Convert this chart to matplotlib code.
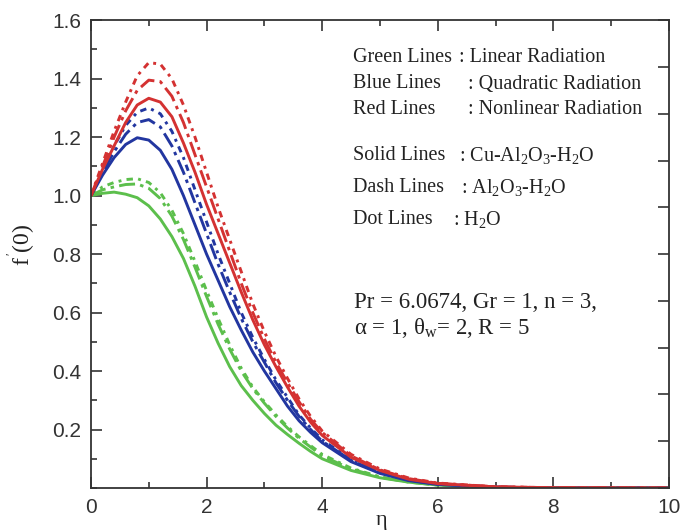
import numpy as np
import matplotlib
matplotlib.use("Agg")
import matplotlib.pyplot as plt
from matplotlib.ticker import MultipleLocator

# ---------------- data ----------------
eta = [0.0, 0.2, 0.4, 0.6, 0.8, 1.0, 1.2, 1.4, 1.6, 1.8, 2.0, 2.2, 2.4, 2.6,
       2.8, 3.0, 3.2, 3.4, 3.6, 3.8, 4.0, 4.5, 5.0, 5.5, 6.0, 7.0, 8.0, 10.0]

# green: linear radiation
green_solid = [1.0, 1.008, 1.012, 1.005, 0.993, 0.965, 0.92, 0.86, 0.785, 0.69, 0.585,
               0.495, 0.415, 0.35, 0.30, 0.255, 0.215, 0.183, 0.153, 0.125, 0.10,
               0.06, 0.035, 0.02, 0.01, 0.002, 0.0, 0.0]
green_dash = [1.0, 1.02, 1.03, 1.038, 1.04, 1.025, 0.99, 0.93, 0.85, 0.755, 0.655,
              0.56, 0.475, 0.40, 0.34, 0.29, 0.245, 0.205, 0.17, 0.14, 0.11,
              0.065, 0.037, 0.02, 0.01, 0.002, 0.0, 0.0]
green_dot = [1.0, 1.03, 1.045, 1.055, 1.058, 1.045, 1.01, 0.95, 0.87, 0.775, 0.675,
             0.58, 0.49, 0.41, 0.345, 0.295, 0.25, 0.21, 0.175, 0.145, 0.115,
             0.068, 0.038, 0.021, 0.011, 0.002, 0.0, 0.0]

# blue: quadratic radiation
blue_solid = [1.0, 1.07, 1.13, 1.175, 1.198, 1.19, 1.155, 1.09, 1.0, 0.90, 0.80,
              0.71, 0.62, 0.54, 0.465, 0.40, 0.34, 0.28, 0.23, 0.19, 0.155,
              0.09, 0.05, 0.025, 0.012, 0.003, 0.0, 0.0]
blue_dash = [1.0, 1.08, 1.15, 1.21, 1.25, 1.26, 1.235, 1.17, 1.08, 0.975, 0.87,
             0.765, 0.67, 0.58, 0.50, 0.43, 0.36, 0.30, 0.245, 0.20, 0.16,
             0.095, 0.052, 0.027, 0.013, 0.003, 0.0, 0.0]
blue_dot = [1.0, 1.09, 1.17, 1.24, 1.285, 1.30, 1.28, 1.22, 1.13, 1.02, 0.91,
            0.80, 0.70, 0.60, 0.515, 0.44, 0.37, 0.31, 0.25, 0.205, 0.165,
            0.097, 0.054, 0.028, 0.014, 0.003, 0.0, 0.0]

# red: nonlinear radiation
red_solid = [1.0, 1.09, 1.17, 1.25, 1.31, 1.333, 1.32, 1.27, 1.18, 1.08, 0.97,
             0.87, 0.77, 0.67, 0.575, 0.49, 0.415, 0.345, 0.28, 0.225, 0.18,
             0.105, 0.06, 0.03, 0.015, 0.004, 0.001, 0.0]
red_dash = [1.0, 1.10, 1.20, 1.29, 1.36, 1.395, 1.39, 1.34, 1.25, 1.14, 1.03,
            0.92, 0.81, 0.70, 0.60, 0.51, 0.43, 0.36, 0.295, 0.235, 0.19,
            0.11, 0.062, 0.032, 0.016, 0.004, 0.001, 0.0]
red_dot = [1.0, 1.11, 1.22, 1.32, 1.41, 1.455, 1.45, 1.40, 1.31, 1.20, 1.08,
           0.96, 0.85, 0.74, 0.63, 0.535, 0.45, 0.375, 0.305, 0.245, 0.195,
           0.115, 0.065, 0.034, 0.017, 0.004, 0.001, 0.0]

GREEN = '#5cbf4c'
BLUE = '#2236a0'
RED = '#d43232'

DASH = (0, (5.5, 1.8, 1.2, 1.8))
DOT = (0, (2.2, 1.8, 1.0, 1.8))

plt.rcParams['mathtext.fontset'] = 'custom'
plt.rcParams['mathtext.rm'] = 'Liberation Serif'
plt.rcParams['mathtext.it'] = 'Liberation Serif'

fig = plt.figure(figsize=(6.84, 5.32), dpi=100)
ax = fig.add_axes([0.133, 0.0827, 0.845, 0.8793])

series = [
    (green_solid, GREEN, '-'), (green_dash, GREEN, DASH), (green_dot, GREEN, DOT),
    (blue_solid, BLUE, '-'), (blue_dash, BLUE, DASH), (blue_dot, BLUE, DOT),
    (red_solid, RED, '-'), (red_dash, RED, DASH), (red_dot, RED, DOT),
]
for vals, col, ls in series:
    ax.plot(eta, vals, color=col, linestyle=ls, lw=2.1, solid_capstyle='round')

ax.set_xlim(0, 10)
ax.set_ylim(0, 1.6)
ax.xaxis.set_major_locator(MultipleLocator(2))
ax.xaxis.set_minor_locator(MultipleLocator(1))
ax.yaxis.set_minor_locator(MultipleLocator(0.1))
ax.set_yticks([0.2, 0.4, 0.6, 0.8, 1.0, 1.2, 1.4, 1.6])
ax.set_yticklabels(['0.2', '0.4', '0.6', '0.8', '1.0', '1.2', '1.4', '1.6'])

sans = 'Liberation Sans'
serif = 'Liberation Serif'
ax.tick_params(which='both', direction='in', top=True, right=False,
               colors='#333333', labelsize=15, width=1.2)
ax.tick_params(which='major', length=8, pad=7)
ax.tick_params(which='minor', length=4.5)
for lab in ax.get_xticklabels() + ax.get_yticklabels():
    lab.set_fontfamily(sans)
for sp in ax.spines.values():
    sp.set_color('#333333')
    sp.set_linewidth(1.3)

# right spine carries its own 10 equal divisions, unlabeled
ax2 = ax.twinx()
ax2.set_ylim(0, 10)
ax2.yaxis.set_major_locator(MultipleLocator(1))
ax2.tick_params(direction='in', length=8, width=1.2, colors='#333333',
                labelright=False)
for sp in ax2.spines.values():
    sp.set_visible(False)

fig.text(382 / 684, 1 - 521 / 532, 'η', family=serif, fontsize=16,
         color='#222222', ha='center', va='center')
fig.text(22 / 684, 1 - 245 / 532, r"f$^{\,'}$(0)", family=serif, fontsize=17,
         color='#222222', ha='center', va='center', rotation=90)

tk = dict(family=serif, color='#222222', va='center')

def put(px, py, s, size=14.5):
    fig.text(px / 684, 1 - py / 532, s, fontsize=size, **tk)

rows = [
    (58, 'Green Lines', 459, ': Linear Radiation'),
    (84, 'Blue Lines', 468, ': Quadratic Radiation'),
    (109, 'Red Lines', 468, ': Nonlinear Radiation'),
    (156, 'Solid Lines', 459, r': Cu-Al$_2$O$_3$-H$_2$O'),
    (188, 'Dash Lines', 461, r': Al$_2$O$_3$-H$_2$O'),
    (219, 'Dot Lines', 453, r': H$_2$O'),
]
for py, left, cx, right in rows:
    put(353, py, left)
    put(cx, py, right)

put(354, 303, 'Pr = 6.0674, Gr = 1, n = 3,', 16.5)
put(354, 328, r'α = 1, θ$_{\rm w}$= 2, R = 5', 16.5)

fig.savefig('out.png', dpi=100)
